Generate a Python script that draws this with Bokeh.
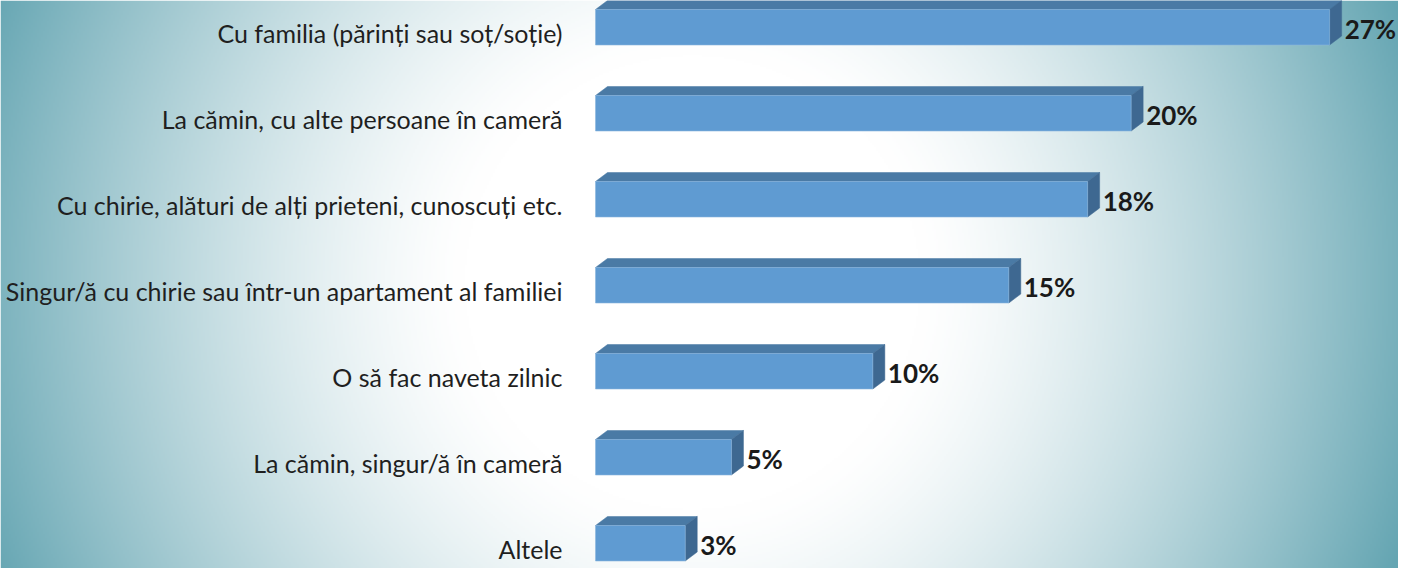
import numpy as np
from bokeh.plotting import figure
from bokeh.models import Range1d, ColumnDataSource
from bokeh.core.properties import value
from bokeh.embed import file_html
from bokeh.resources import INLINE

# ---- data (top to bottom) ----
categories = [
    "Cu familia (părinți sau soț/soție)",
    "La cămin, cu alte persoane în cameră",
    "Cu chirie, alături de alți prieteni, cunoscuți etc.",
    "Singur/ă cu chirie sau într-un apartament al familiei",
    "O să fac naveta zilnic",
    "La cămin, singur/ă în cameră",
    "Altele",
]
values = [27.0, 19.7, 18.1, 15.2, 10.2, 5.0, 3.3]
value_labels = ["27%", "20%", "18%", "15%", "10%", "5%", "3%"]

# ---- geometry / style ----
W, H = 1398, 568
SX = 27.19          # px per percent
SY = 86.0           # px per category step
X0_PX = 595         # px of zero line in figure
n = len(categories)
ypos = [n - 1 - i for i in range(n)]  # top category highest

FRONT_H = 35.5
top_center = 9 + FRONT_H / 2
bottom_center_from_bottom = H - (top_center + SY * (n - 1))

x_start = -X0_PX / SX
x_end = (W - X0_PX) / SX
y_start = -bottom_center_from_bottom / SY
y_end = (H - bottom_center_from_bottom) / SY

bar_h = FRONT_H / SY
dx = 12 / SX
dy = 9 / SY

FRONT = "#5f9bd2"
TOP = "#4a7aa5"
SIDE = "#3e6891"

p = figure(width=W, height=H, output_backend="svg", toolbar_location=None,
           x_range=Range1d(x_start, x_end), y_range=Range1d(y_start, y_end),
           min_border=0)
p.axis.visible = False
p.grid.visible = False
p.outline_line_color = None

# ---- radial gradient background ----
gw, gh = W // 2, H // 2
gx = np.linspace(0, W, gw)[None, :]
gy = np.linspace(H, 0, gh)[:, None]   # row 0 = bottom
cx, cy, R = 700 - 8, 290 - 8, 760.0
t = np.sqrt((gx - cx) ** 2 + (gy - cy) ** 2) / R
f = np.clip((t - 0.3) / 0.7, 0, 1) ** 1.35
edge = np.array([100, 165, 178])
white = np.array([255, 255, 255])
rgb = white[None, None, :] * (1 - f[..., None]) + edge[None, None, :] * f[..., None]
img = np.zeros((gh, gw), dtype=np.uint32)
view = img.view(dtype=np.uint8).reshape((gh, gw, 4))
view[..., 0] = rgb[..., 0].astype(np.uint8)
view[..., 1] = rgb[..., 1].astype(np.uint8)
view[..., 2] = rgb[..., 2].astype(np.uint8)
view[..., 3] = 255
p.image_rgba(image=[img], x=x_start, y=y_start, dw=x_end - x_start, dh=y_end - y_start)

# ---- 3D bars ----
tops_x, tops_y, sides_x, sides_y = [], [], [], []
for v, y in zip(values, ypos):
    t_ = y + bar_h / 2
    b_ = y - bar_h / 2
    tops_x.append([0, v, v + dx, dx])
    tops_y.append([t_, t_, t_ + dy, t_ + dy])
    sides_x.append([v, v, v + dx, v + dx])
    sides_y.append([b_, t_, t_ + dy, b_ + dy])

p.patches(tops_x, tops_y, fill_color=TOP, line_color=TOP, line_width=0.5)
p.patches(sides_x, sides_y, fill_color=SIDE, line_color=SIDE, line_width=0.5)
src = ColumnDataSource(dict(y=ypos, v=values, cat=categories, lab=value_labels,
                            ly=[y - 6 / SY for y in ypos],
                            vx=[v + 15 / SX for v in values],
                            vy=[y - 2 / SY for y in ypos]))
p.hbar(y="y", left=0, right="v", height=bar_h, source=src,
       fill_color=FRONT, line_color="#8ab6de", line_width=0.6)

# ---- labels ----
p.text(x=-33 / SX, y="ly", text="cat", source=src, text_align="right",
       text_baseline="middle", text_font=value("Lato"),
       text_font_size="25px", text_color="#1f1f1f")
p.text(x="vx", y="vy", text="lab", source=src, text_align="left",
       text_baseline="middle", text_font=value("Lato"), text_font_style="bold",
       text_font_size="26px", text_color="#1a1a1a")

open("out.html", "w").write(file_html(p, INLINE))
